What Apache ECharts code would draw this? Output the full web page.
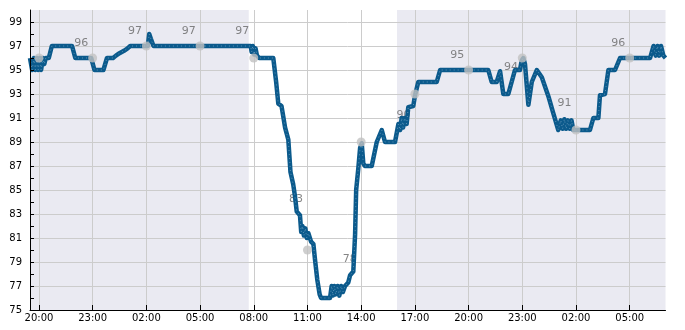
<!DOCTYPE html>
<html>
<head>
<meta charset="utf-8">
<script src="https://cdn.jsdelivr.net/npm/echarts@6/dist/echarts.min.js"></script>
<style>html,body{margin:0;padding:0;background:#fff}#c{width:685px;height:330px}</style>
</head>
<body>
<div id="c"></div>
<script>
// x values are hours since midnight of day 1 (19.5 = 19:30 day 1, 55 = 07:00 day 3)
var times = [19.50,19.62,19.72,19.80,19.88,19.96,20.05,20.12,20.22,20.30,20.38,20.55,20.72,21.85,22.03,22.92,23.10,23.60,23.80,24.14,24.30,24.50,24.75,24.95,25.10,26.08,26.16,26.25,26.40,31.83,31.88,31.95,32.02,32.10,32.18,32.30,33.09,33.25,33.37,33.55,33.75,33.93,34.05,34.20,34.30,34.40,34.58,34.65,34.72,34.80,34.88,34.96,35.05,35.20,35.33,35.42,35.55,35.68,35.76,36.26,36.35,36.42,36.50,36.58,36.68,36.78,36.88,36.98,37.10,37.28,37.38,37.56,37.66,37.72,37.84,37.94,38.03,38.12,38.21,38.59,38.87,39.15,39.33,39.89,40.08,40.18,40.26,40.34,40.42,40.54,40.63,40.91,41.01,41.19,42.22,42.41,45.10,45.29,45.57,45.76,45.94,46.22,46.59,46.87,46.97,47.06,47.15,47.34,47.53,47.81,48.09,48.46,48.73,49.01,49.15,49.25,49.35,49.45,49.55,49.65,49.75,49.85,50.78,50.97,51.25,51.34,51.62,51.81,52.18,52.46,54.14,54.33,54.45,54.55,54.65,54.75,54.88,55.00];
var values = [96,95,96,95,96,95,96,95,96,95.5,96,96,97,97,96,96,95,95,96,96,96.2,96.4,96.6,96.8,97,97,98,97.6,97,97,96.5,97,96.3,96.8,96.2,96,96,94,92.2,92,90.2,89.2,86.5,85.5,84.5,83.2,82.9,81.5,82,81.2,81.8,81,81.4,80.7,80.5,79.2,77.5,76.3,76,76,77,76.2,77,76.3,77,76.2,77,76.5,77,77.3,77.9,78.2,81.3,85,86.8,88.5,88.9,87.2,87,87,89,90,89,89,90.5,90,91,90.2,91,90.5,91.9,92,92.9,94,94,95,95,94,94,94.9,93,93,95,95,95.8,96,95.5,92.1,94,95,94.4,92.8,91.4,90,90.8,90.1,90.9,90.1,90.8,90.1,90.8,90,90,91,91,92.9,93,95,95,96,96,97,96.2,97,96.2,97,96.2,96];

var dotTimes = [20,23,26,29,32,35,38,41,44,47,50,53];
var dotValues = [96,96,97,97,96,80,89,93,95,96,90,96];

var labelTimes = [22,25,28,31,34,37,40,43,46,49,52];
var labelValues = [96,97,97,97,83,78,90,95,94,91,96];

var xTicks = [20,23,26,29,32,35,38,41,44,47,50,53];
var yLabels = [75,77,79,81,83,85,87,89,91,93,95,97,99];
var yMinor = [76,78,80,82,84,86,88,90,92,94,96,98];

var bandStarts = [19.5, 40.0];
var bandEnds = [31.72, 55];

var xMin = 19.5, xMax = 55, yMin = 75, yMax = 100;

function fmtHour(h){ var hh = Math.round(h) % 24; return (hh < 10 ? '0' : '') + hh + ':00'; }

var lineData = times.map(function(t,i){ return [t, values[i]]; });
var dotData = dotTimes.map(function(t,i){ return [t, dotValues[i]]; });
var labelData = labelTimes.map(function(t,i){ return [t, labelValues[i]]; });

var gridMarks = xTicks.map(function(h){ return {xAxis: h}; })
  .concat(yLabels.map(function(v){ return {yAxis: v}; }));
var bands = bandStarts.map(function(s,i){ return [{xAxis: s}, {xAxis: bandEnds[i]}]; });

var font = 'DejaVu Sans';
var chart = echarts.init(document.getElementById('c'), null, {renderer: 'canvas'});
chart.setOption({
  animation: false,
  grid: {left: 30, right: 19.5, top: 10, bottom: 20, containLabel: false},
  xAxis: {
    type: 'value', min: xMin, max: xMax, z: 20,
    axisLine: {show: true, onZero: false, lineStyle: {color: '#000', width: 1}},
    axisTick: {show: true, inside: true, length: 5, customValues: xTicks, lineStyle: {color: '#000'}},
    axisLabel: {customValues: xTicks, formatter: fmtHour, color: '#000', fontFamily: font, fontSize: 10, margin: 3},
    splitLine: {show: false}
  },
  yAxis: {
    type: 'value', min: yMin, max: yMax, z: 20,
    axisLine: {show: true, onZero: false, lineStyle: {color: '#000', width: 1}},
    axisTick: {show: true, inside: true, length: 4, customValues: yLabels.concat(yMinor), lineStyle: {color: '#000'}},
    axisLabel: {customValues: yLabels, color: '#000', fontFamily: font, fontSize: 10, margin: 8},
    splitLine: {show: false}
  },
  series: [
    {
      type: 'line', data: [], z: 1, silent: true,
      markArea: {silent: true, z: 1, itemStyle: {color: '#eaeaf2'}, data: bands},
      markLine: {silent: true, z: 3, symbol: ['none','none'], label: {show: false},
        lineStyle: {color: '#cccccc', width: 1, type: 'solid'}, data: gridMarks}
    },
    {
      type: 'scatter', data: labelData, z: 6, symbolSize: 1, silent: true,
      itemStyle: {color: 'rgba(0,0,0,0)'},
      label: {show: true, position: [0, -14], align: 'left', verticalAlign: 'middle',
        formatter: function(p){ return String(p.value[1]); }, color: '#666', fontFamily: font, fontSize: 11}
    },
    {
      type: 'line', data: lineData, z: 10, showSymbol: false, silent: true,
      lineStyle: {color: '#0b5a8c', width: 4.5, join: 'round'}
    },
    {
      type: 'line', data: lineData, z: 11, showSymbol: false, silent: true,
      lineStyle: {color: 'rgba(190,215,235,0.55)', width: 0.8, type: [1, 3]}
    },
    {
      type: 'scatter', data: dotData, z: 12, symbolSize: 9, silent: true,
      itemStyle: {color: '#c2c2c2'}
    }
  ]
});
</script>
</body>
</html>
